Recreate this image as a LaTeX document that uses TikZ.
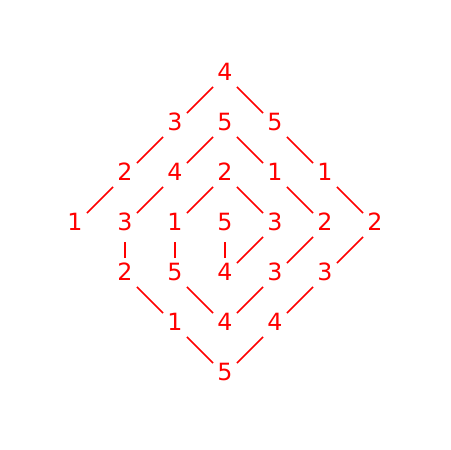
\documentclass[tikz,border=0pt]{standalone}
\usepackage{fontspec}
\setmainfont{DejaVu Sans}
\definecolor{nred}{HTML}{FF0000}
\begin{document}
\begin{tikzpicture}[x=0.02cm,y=-0.02cm,
  v/.style={circle,inner sep=0pt,minimum size=0.66cm,text=nred,
    font=\fontsize{13.5}{16}\selectfont,text depth=0.14cm},
  e/.style={draw=nred,line width=0.85pt}]
\useasboundingbox (0,0) rectangle (450,450);
\node[v] (n1) at (75,225) {1};
\node[v] (n2) at (125,175) {2};
\node[v] (n3) at (175,125) {3};
\node[v] (n4) at (225,75) {4};
\node[v] (n5) at (275,125) {5};
\node[v] (n6) at (325,175) {1};
\node[v] (n7) at (375,225) {2};
\node[v] (n8) at (325,275) {3};
\node[v] (n9) at (275,325) {4};
\node[v] (n10) at (225,375) {5};
\node[v] (n11) at (175,325) {1};
\node[v] (n12) at (125,275) {2};
\node[v] (n13) at (125,225) {3};
\node[v] (n14) at (175,175) {4};
\node[v] (n15) at (225,125) {5};
\node[v] (n16) at (275,175) {1};
\node[v] (n17) at (325,225) {2};
\node[v] (n18) at (275,275) {3};
\node[v] (n19) at (225,325) {4};
\node[v] (n20) at (175,275) {5};
\node[v] (n21) at (175,225) {1};
\node[v] (n22) at (225,175) {2};
\node[v] (n23) at (275,225) {3};
\node[v] (n24) at (225,275) {4};
\node[v] (n25) at (225,225) {5};
\foreach \a/\b in {n1/n2,n2/n3,n3/n4,n4/n5,n5/n6,n6/n7,n7/n8,n8/n9,n9/n10,n10/n11,n11/n12,n12/n13,n13/n14,n14/n15,n15/n16,n16/n17,n17/n18,n18/n19,n19/n20,n20/n21,n21/n22,n22/n23,n23/n24,n24/n25}
  \draw[e] (\a) -- (\b);
\end{tikzpicture}
\end{document}
